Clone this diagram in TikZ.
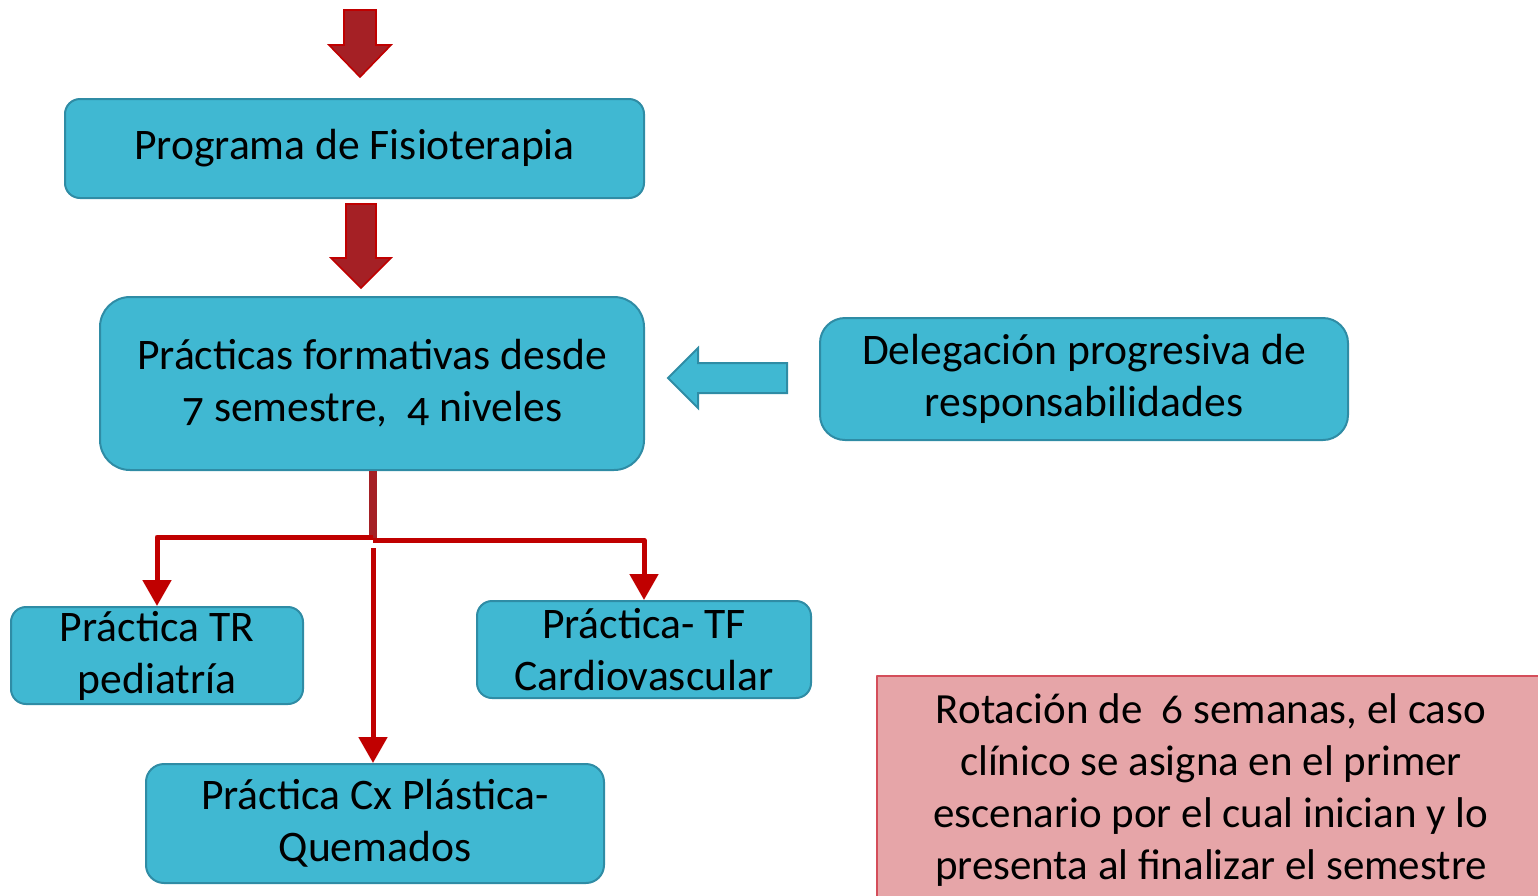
\documentclass[tikz,border=0pt]{standalone}
\usepackage{fontspec}
\setmainfont[Numbers=OldStyle]{Carlito}
\usetikzlibrary{arrows.meta}

\definecolor{boxcyan}{RGB}{64,184,210}
\definecolor{boxedge}{RGB}{47,140,165}
\definecolor{darkred}{RGB}{165,32,37}
\definecolor{linered}{RGB}{192,0,0}
\definecolor{notepink}{RGB}{230,165,168}
\definecolor{noteedge}{RGB}{212,78,90}

\tikzset{
  stage/.style={draw=boxedge,fill=boxcyan,line width=1pt,inner sep=0pt,align=center,
    font=\fontsize{21.8}{26}\selectfont},
  redblock/.style={draw=linered,fill=darkred,line width=0.8pt,line join=miter},
  cyanblock/.style={draw=boxedge,fill=boxcyan,line width=1pt,line join=miter},
  branch/.style={draw=linered,line width=2.5pt,-{Triangle[width=14pt,length=13pt]}},
}

\begin{document}
\begin{tikzpicture}[line cap=butt,line join=round,x=0.5pt,y=-0.5pt]%flujo de practicas
			\clip (0,0) rectangle (1538,895);
			% cajas
			\node[stage,rounded corners=7.5pt,minimum width=289.5pt,minimum height=49.5pt] (prog) at (354.5,148.5) {Programa de Fisioterapia};
			\node[stage,rounded corners=15pt,minimum width=272pt,minimum height=86.5pt] (prac) at (372,383.5) {Prácticas formativas desde\\7 semestre,\ \ 4 niveles};
			\node[stage,rounded corners=12.5pt,minimum width=264pt,minimum height=61pt] (deleg) at (1084,379) {Delegación progresiva de\\responsabilidades};
			\node[stage,rounded corners=7.5pt,minimum width=146pt,minimum height=48.5pt] (ped) at (157,655.5) {Práctica TR\\pediatría};
			\node[stage,rounded corners=7.5pt,minimum width=167pt,minimum height=48.5pt] (card) at (644,649.5) {Práctica- TF\\Cardiovascular};
			\node[stage,rounded corners=9pt,minimum width=229pt,minimum height=59.5pt] (quem) at (375,823.5) {Práctica Cx Plástica-\\Quemados};
			\node[stage,draw=noteedge,fill=notepink,anchor=north west,minimum width=340pt,minimum height=120pt] (rot) at (876,675) {};
			\node[align=center,font=\fontsize{21.5}{26}\selectfont] (rottxt) at (1211,790) {Rotación de\ \ 6 semanas, el caso\\clínico se asigna en el primer\\escenario por el cual inician y lo\\presenta al finalizar el semestre};
			% flechas de bloque
			\draw[redblock] (344,10) -- ++(32,0) -- ++(0,35) -- ++(15,0) -- (360,77) -- (329,45) -- ++(15,0) -- cycle;
			\draw[redblock] (346,204) -- ++(30,0) -- ++(0,54) -- ++(15,0) -- (361,288) -- (331,258) -- ++(15,0) -- cycle;
			\draw[cyanblock] (787,363) -- (698,363) -- (698,348) -- (668,378) -- (698,408) -- (698,393) -- (787,393) -- cycle;
			% ramas
			\coordinate (jl) at (373,537);
			\coordinate (jr) at (373,540);
			\coordinate (jm) at (373,548);
			\draw[darkred,line width=4pt] (prac.south -| jl) -- (jr);
			\draw[branch] (jl) -| (ped.north);
			\draw[branch] (jr) -| (card.north);
			\draw[branch] (jm) -- (jm |- quem.north);
		\end{tikzpicture}
\end{document}
